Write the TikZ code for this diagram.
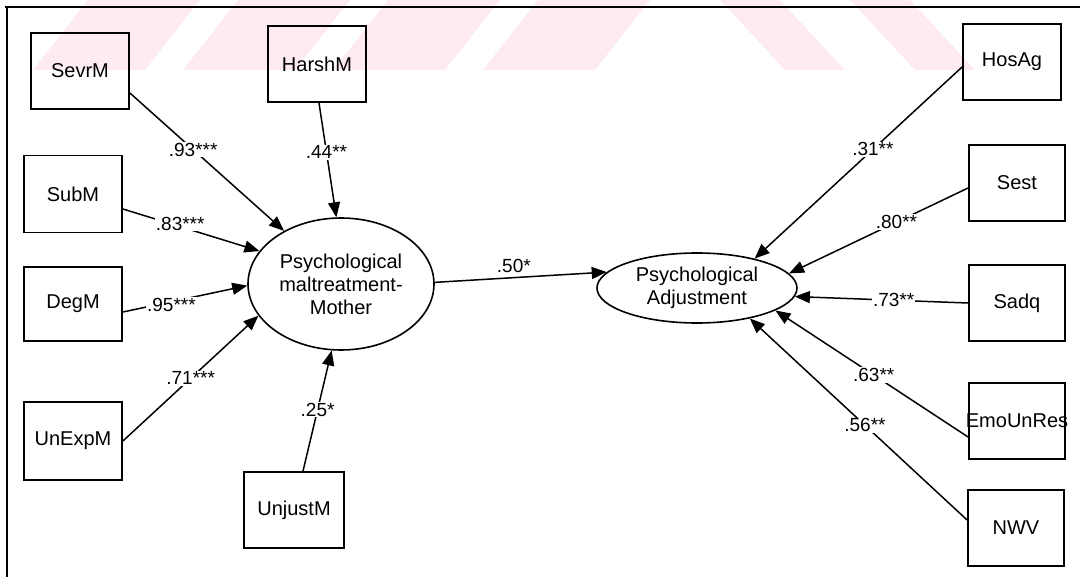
\documentclass[tikz,border=0pt]{standalone}
\usepackage{fontspec}
\setmainfont{Liberation Sans}
\usetikzlibrary{arrows.meta,calc,shapes.geometric}
\definecolor{wm}{RGB}{253,235,239}
\begin{document}
\begin{tikzpicture}[x=1pt,y=-1pt,
  box/.style={draw, line width=1.8pt, minimum width=98pt, minimum height=76pt, inner sep=0pt, font=\fontsize{20}{23}\selectfont},
  lat/.style={draw, ellipse, line width=1.6pt, inner sep=0pt, align=center, font=\fontsize{20}{23}\selectfont},
  conn/.style={line width=1.5pt, -{Triangle[length=15pt,width=12pt]}},
  lab/.style={fill=white, inner sep=1pt, font=\fontsize{19}{21}\selectfont}]
\useasboundingbox (0,0) rectangle (1080,577);
% watermark band
\begin{scope}
\clip (0,0) rectangle (1080,70);
\foreach \k in {0,...,3} {
  \fill[wm] ({483-150*\k},70) -- ({595-150*\k},70) -- ({650-150*\k},0) -- ({538-150*\k},0) -- cycle;
}
\fill[wm] (785,70) -- (845,70) -- (780,0) -- (720,0) -- cycle;
\fill[wm] (915,70) -- (975,70) -- (910,0) -- (850,0) -- cycle;
\end{scope}
% frame
\draw[line width=2pt] (5,7) -- (1080,7);
\draw[line width=2pt] (7,6) -- (7,577);
% boxes
\node[box] (sevr) at (80,71) {SevrM};
\node[box] (harsh) at (317,64) {HarshM};
\node[box, minimum height=77pt] (sub) at (73,194) {SubM};
\node[box, minimum height=74pt] (deg) at (73,304) {DegM};
\node[box, minimum height=78pt] (unexp) at (73,441) {UnExpM};
\node[box, minimum width=100pt] (unjust) at (294,510) {UnjustM};
\node[box] (hos) at (1012,62) {HosAg};
\node[box, minimum width=96pt] (sest) at (1017,183) {Sest};
\node[box, minimum width=96pt] (sadq) at (1017,303) {Sadq};
\node[box, minimum width=96pt] (emo) at (1017,421) {\makebox[0pt]{EmoUnRes}};
\node[box, minimum width=96pt] (nwv) at (1016,528) {NWV};
% latent variables
\node[lat, minimum width=186pt, minimum height=132pt] (m1) at (341,284) {Psychological\\maltreatment-\\Mother};
\node[lat, minimum width=200pt, minimum height=70pt] (m2) at (697,288) {Psychological\\Adjustment};
% connectors
\draw[conn] ($(sevr.east)+(0,22)$) -- node[lab,pos=0.41]{.93***} (m1.137);
\draw[conn] ($(harsh.south)+(2,0)$) -- node[lab,pos=0.43]{.44**} (m1.94);
\draw[conn] ($(sub.east)+(0,15)$) -- node[lab,pos=0.42,yshift=3pt]{.83***} (m1.158);
\draw[conn] ($(deg.east)+(0,8)$) -- node[lab,pos=0.39,yshift=-3pt]{.95***} (m1.181);
\draw[conn] (unexp.east) -- node[lab,pos=0.5]{.71***} (m1.201);
\draw[conn] ($(unjust.north)+(9,0)$) -- node[lab,pos=0.51]{.25*} (m1.262);
\draw[conn] (m1.1) -- node[lab,pos=0.46,above=3pt]{.50*} (m2.170);
\draw[conn] ($(hos.west)+(0,5)$) -- node[lab,pos=0.43]{.31**} (m2.27);
\draw[conn] ($(sest.west)+(0,5)$) -- node[lab,pos=0.40]{.80**} (m2.9);
\draw[conn] (sadq.west) -- node[lab,pos=0.43]{.73**} (m2.355);
\draw[conn] ($(emo.west)+(0,16)$) -- node[lab,pos=0.49]{.63**} (m2.344);
\draw[conn] ($(nwv.west)+(0,-8)$) -- node[lab,pos=0.47]{.56**} (m2.330);
\end{tikzpicture}
\end{document}
